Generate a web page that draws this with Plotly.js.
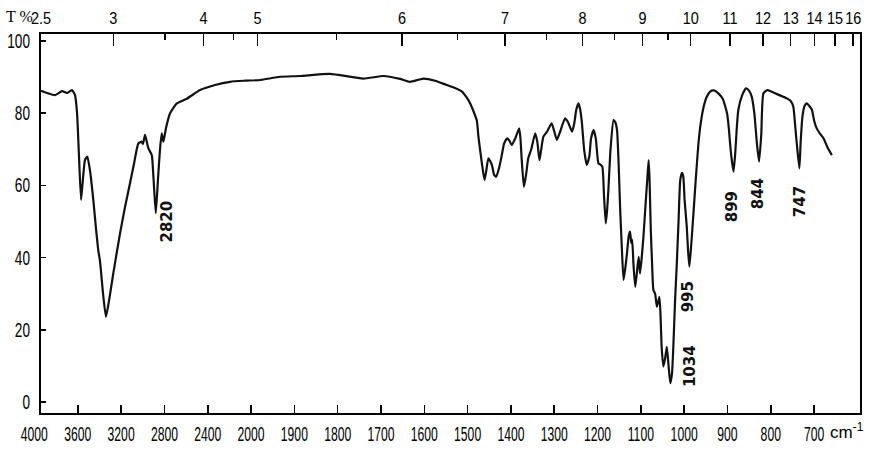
<!DOCTYPE html>
<html><head><meta charset="utf-8">
<script src="https://cdn.plot.ly/plotly-3.0.1.min.js"></script>
<style>html,body{margin:0;padding:0;background:#fff}#chart{width:869px;height:453px}</style>
</head><body><div id="chart"></div><script>
// Wavenumber (cm-1) and transmittance (%)
const wavenumber = [3940,3884,3811,3746,3700,3654,3626,3607,3589,3570,3552,3534,3512,3487,3457,3432,3411,3395,3367,3340,3312,3272,3210,3164,3118,3081,3041,3010,2998,2979,2949,2917,2901,2880,2859,2841,2825,2810,2785,2748,2686,2594,2471,2333,2194,2056,1979,1933,1887,1818,1741,1694,1656,1633,1602,1575,1548,1529,1513,1503,1494,1479,1475,1467,1461,1457,1452,1444,1439,1434,1427,1421,1416,1409,1404,1398,1390,1381,1378,1375,1370,1365,1360,1353,1344,1339,1334,1330,1325,1316,1306,1300,1294,1286,1275,1268,1259,1254,1249,1244,1240,1236,1231,1225,1219,1215,1209,1204,1198,1194,1189,1185,1181,1178,1175,1170,1163,1159,1155,1151,1148,1144,1140,1136,1132,1128,1125,1122,1120,1117,1113,1109,1105,1102,1098,1094,1089,1085,1082,1080,1077,1074,1071,1067,1063,1057,1054,1052,1048,1044,1040,1036,1032,1028,1025,1021,1017,1013,1009,1005,1002,999,994,991,988,984,978,973,967,962,955,948,940,931,921,911,901,897,894,890,886,882,879,875,866,857,850,844,838,832,827,822,817,808,799,790,776,763,755,748,744,740,734,731,727,722,717,711,705,700,694,686,678,669,659];
const transmittance = [86.2,85.6,85.0,86.1,85.6,86.4,85.0,80,68,56,62,67,68,64,56,48,42,39,30,23.6,28,35.7,46.7,54,60.6,66,71.6,72.1,71.5,74,70.3,68.4,62,52.3,62,70,74.4,72.1,76,80,82.7,84,86.4,87.8,88.7,89.0,89.2,90.1,90.3,90.9,89.6,90.3,89.5,88.7,89.6,89,87.8,87,86,84.5,82.7,78.1,73.5,66.1,61.5,64,67.5,65.7,63,62.4,65,68.4,71.5,73,72.5,71.2,73,75.8,73,67,59.6,63,67.5,70,74.4,72,67,70,73.5,75,77.2,75,72.6,75,78.6,77.5,74.9,77,81,82.7,81,77.2,70,65.7,68,73,75.3,73,66.1,65.8,65.2,57,49.5,53,58.7,70,78.1,77.5,75.3,65,54.1,43,33.8,37,41.2,46,47.2,44,45,38,31.9,36,40.2,35.6,40,45.8,55,62,67,62,47.6,38,31,30,26.4,29.1,22,15.3,9.8,12,15.3,10,5.2,8,15.3,28,38.4,50,61.5,63.5,62.5,56,48.6,42,37.5,43,53.2,62,71.6,77,81.8,84.5,86,86.3,85.5,84,80,76,71.6,67,63.8,69,75,80.9,85,86.9,86.2,84.6,80,71.6,66.6,74,85.5,86.4,86,85.5,84.8,84.1,83.5,81.8,77,71.6,64.7,72,79,82,82.7,82,80.9,78,75.8,74.3,73,70.5,68.4];

const bottomTickWn = [4000,3600,3200,2800,2400,2000,1900,1800,1700,1600,1500,1400,1300,1200,1100,1000,900,800,700];
const bottomTickText = ['4000','3600','3200','2800','2400','2000','1900','1800','1700','1600','1500','1400','1300','1200','1100','1000','900','800','700'];
const topTickMicron = [2.5,3,4,5,6,7,8,9,10,11,12,13,14,15,16];
const topTickText = ['2.5','3','4','5','6','7','8','9','10','11','12','13','14','15','16'];
const topMinorMicron = [3.5,4.5,5.5,6.5,7.5,8.5,9.5];
const yTickVals = [0,20,40,60,80,100];
const yTickText = ['0','20','40','60','80','100'];

const peakText = ['2820','1034','995','899','844','747'];
const peakLabelWn = [2785,986,991,889,829,732];
const peakLabelT = [50,10,29,54,57.6,55.4];

// chart-paper scale: 4000-2000 compressed 4x relative to 2000-400
function pos(wn){ return wn >= 2000 ? (4000 - wn) / 400 : 5 + (2000 - wn) / 100; }

const lbl = 'Liberation Sans, Arial, sans-serif';
const xRange = [0.15, 19.06];
const inRange = bottomTickWn.map(w => pos(w) >= xRange[0]);
const toPaper = p => (p - xRange[0]) / (xRange[1] - xRange[0]);

const traces = [
  {x: wavenumber.map(pos), y: transmittance, type:'scatter', mode:'lines',
   line:{color:'#111', width:2.2, shape:'spline', smoothing:0.5}, hoverinfo:'skip', xaxis:'x', yaxis:'y'},
  {x: [], y: [], type:'scatter', mode:'lines', xaxis:'x2', yaxis:'y', hoverinfo:'skip', showlegend:false}
];

const annotations = peakText.map((t,i)=>({
  x: pos(peakLabelWn[i]), y: peakLabelT[i], xref:'x', yref:'y', text: t, showarrow:false,
  textangle:-90, font:{family:'DejaVu Sans, sans-serif', size:15, color:'#111', weight:'bold'}
}));
annotations.push({xref:'paper', yref:'paper', x:-0.044, y:1.045, xanchor:'left', yanchor:'middle', text:'T %', showarrow:false,
  borderpad:0, font:{family:'Liberation Serif, serif', size:16, color:'#000'}});
annotations.push({xref:'paper', yref:'paper', x:0.962, y:-0.048, xanchor:'left', yanchor:'middle', text:'cm<sup>-1</sup>', showarrow:false,
  borderpad:0, font:{family:lbl, size:17, color:'#000'}});
// bottom tick labels lying left of the frame (outside the axis range)
bottomTickWn.forEach((w,i)=>{
  if(!inRange[i]) annotations.push({xref:'paper', yref:'paper', x:toPaper(pos(w)), y:-0.053, xanchor:'center', yanchor:'middle',
    text:bottomTickText[i], showarrow:false, borderpad:0, font:{family:lbl, size:21, color:'#000'}});
});

const layout = {
  width:869, height:453,
  margin:{l:41, r:9, t:34, b:40, pad:0},
  paper_bgcolor:'#fff', plot_bgcolor:'#fff', showlegend:false,
  xaxis:{range:xRange, tickmode:'array', tickvals: bottomTickWn.filter((w,i)=>inRange[i]).map(pos),
    ticktext: bottomTickText.filter((t,i)=>inRange[i]), tickangle:0,
    ticks:'inside', ticklen:8, tickwidth:1.5, tickcolor:'#000', showline:true, linecolor:'#000', linewidth:2,
    showgrid:false, zeroline:false, tickfont:{family:lbl, size:21, color:'#000'}, ticklabelstandoff:1, fixedrange:true},
  xaxis2:{overlaying:'x', side:'top', anchor:'y', range:[-0.002,18.908], tickmode:'array', tickangle:0,
    tickvals: topTickMicron.map(m=>pos(10000/m)), ticktext: topTickText,
    ticks:'inside', ticklen:12, tickwidth:1.5, tickcolor:'#000',
    minor:{tickmode:'array', tickvals: topMinorMicron.map(m=>pos(10000/m)), ticks:'inside', ticklen:6, tickwidth:1.5, tickcolor:'#000'},
    showline:true, linecolor:'#000', linewidth:2, showgrid:false, zeroline:false,
    tickfont:{family:lbl, size:17, color:'#000'}, ticklabelstandoff:1, fixedrange:true},
  yaxis:{range:[-3.05,101.94], tickmode:'array', tickvals:yTickVals, ticktext:yTickText, tickangle:0,
    ticks:'inside', ticklen:5, tickwidth:1.5, tickcolor:'#000', showline:true, mirror:true, linecolor:'#000', linewidth:2,
    showgrid:false, zeroline:false, tickfont:{family:lbl, size:20, color:'#000'}, ticklabelstandoff:5, fixedrange:true},
  annotations: annotations
};

function squeezeEl(t, s){
  const cx = parseFloat(t.getAttribute('x')) || 0;
  const tr = t.getAttribute('transform') || '';
  t.setAttribute('transform', tr + ' translate(' + cx + ',0) scale(' + s + ',1) translate(' + (-cx) + ',0)');
}
function squeeze(gd){
  const conf = [['.xtick text',0.58],['.x2tick text',0.85],['.ytick text',0.68]];
  conf.forEach(([sel,s])=>{ gd.querySelectorAll(sel).forEach(t=>squeezeEl(t,s)); });
  gd.querySelectorAll('g.annotation text.annotation-text').forEach(t=>{
    if(bottomTickText.indexOf(t.textContent) >= 0) squeezeEl(t, 0.58);
  });
}
Plotly.newPlot('chart', traces, layout, {displayModeBar:false, staticPlot:true}).then(squeeze);
</script></body></html>
